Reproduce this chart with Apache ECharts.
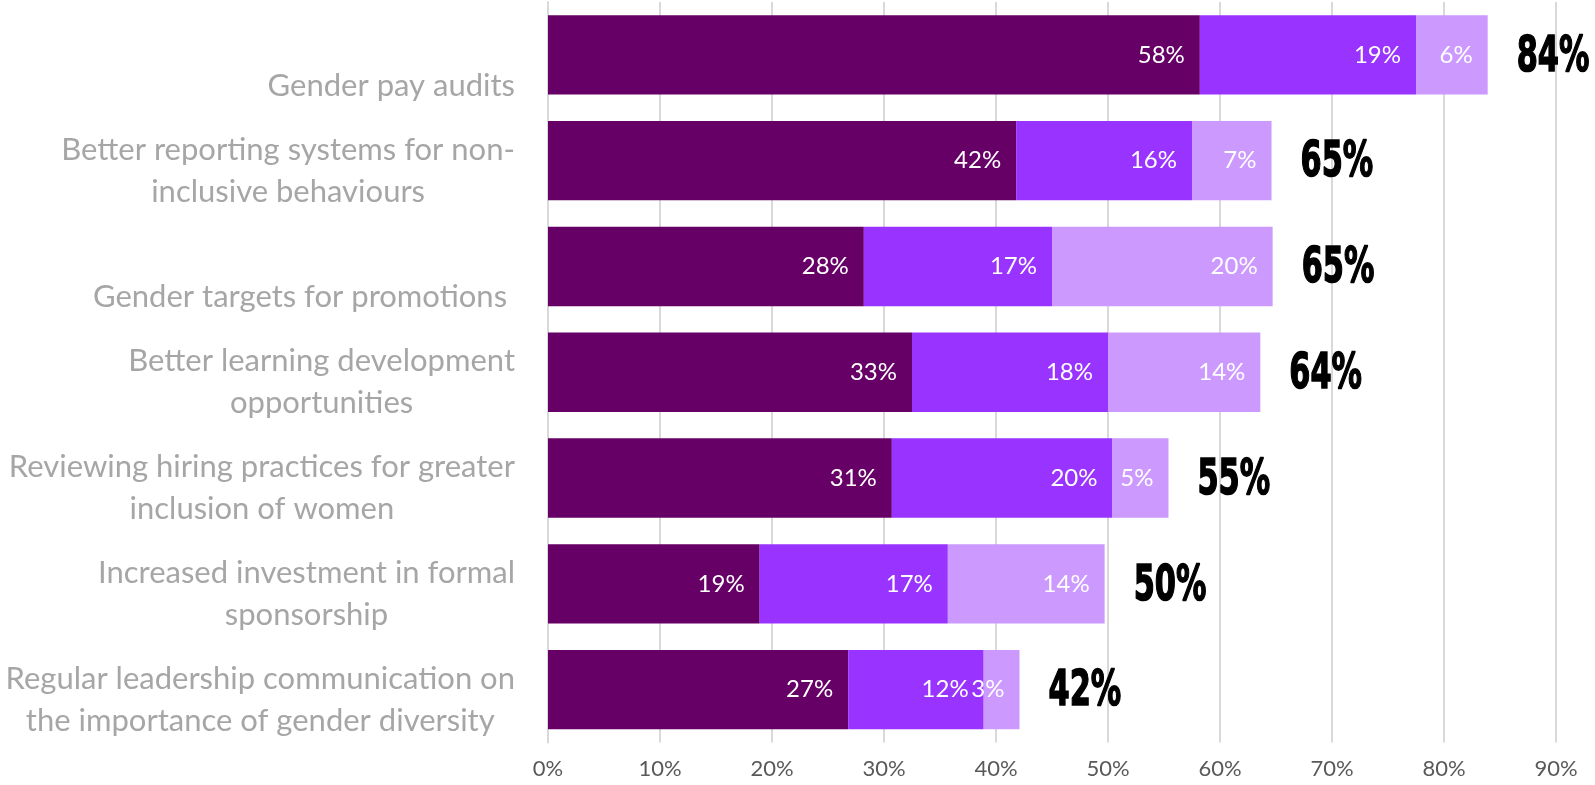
<!DOCTYPE html>
<html>
<head>
<meta charset="utf-8">
<script src="https://cdn.jsdelivr.net/npm/echarts@6/dist/echarts.min.js"></script>
<style>
html,body{margin:0;padding:0;background:#fff;}
#main{width:1595px;height:785px;}
</style>
</head>
<body>
<div id="main"></div>
<script>
const categories = [
  "Gender pay audits",
  "Better reporting systems for non-\ninclusive behaviours",
  "Gender targets for promotions ",
  "Better learning development\nopportunities",
  "Reviewing hiring practices for greater\ninclusion of women",
  "Increased investment in formal\nsponsorship",
  "Regular leadership communication on\nthe importance of gender diversity"
];
const seriesA = [58.2, 41.8, 28.2, 32.5, 30.7, 18.9, 26.8];
const seriesB = [19.3, 15.7, 16.8, 17.5, 19.7, 16.8, 12.1];
const seriesC = [6.4, 7.1, 19.7, 13.6, 5.0, 14.0, 3.2];
const totalLabels = ["84%", "65%", "65%", "64%", "55%", "50%", "42%"];
const xTicks = [0, 10, 20, 30, 40, 50, 60, 70, 80, 90];

const colors = ['#660066', '#9933FF', '#CC99FF'];
const FONT = 'Lato, Carlito, "Open Sans", sans-serif';

const chart = echarts.init(document.getElementById('main'), null, {renderer: 'canvas'});

function barSeries(name, data, color) {
  return {
    name: name,
    type: 'bar',
    stack: 'total',
    data: data,
    barCategoryGap: '25%',
    itemStyle: { color: color },
    label: {
      show: true,
      position: 'insideRight',
      distance: 15,
      color: '#ffffff',
      fontFamily: FONT,
      fontSize: 24,
      formatter: p => Math.round(p.value) + '%'
    },
    emphasis: { disabled: true }
  };
}

const sums = categories.map((c, i) => seriesA[i] + seriesB[i] + seriesC[i]);

const option = {
  animation: false,
  backgroundColor: '#ffffff',
  grid: { left: 548, right: 39, top: 2, bottom: 42.5, containLabel: false },
  xAxis: {
    type: 'value',
    min: xTicks[0],
    max: xTicks[xTicks.length - 1],
    interval: 10,
    axisLine: { show: false },
    axisTick: { show: false },
    splitLine: { show: true, lineStyle: { color: '#d9d9d9', width: 2 } },
    axisLabel: {
      color: '#595959',
      fontFamily: FONT,
      fontSize: 22,
      margin: 15,
      formatter: '{value}%'
    }
  },
  yAxis: {
    type: 'category',
    inverse: true,
    data: categories,
    axisLine: { show: true, lineStyle: { color: '#d9d9d9', width: 2 } },
    axisTick: { show: false },
    axisLabel: {
      margin: 33,
      padding: [20, 0, 0, 0],
      formatter: v => {
        const lines = v.indexOf('\n') >= 0 ? v.split('\n') : [' ', v];
        return lines.map(l => '{a|' + l + '}').join('\n');
      },
      rich: {
        a: {
          color: '#a6a6a6',
          fontFamily: FONT,
          fontSize: 31,
          lineHeight: 42,
          align: 'center'
        }
      }
    }
  },
  series: [
    barSeries('A', seriesA, colors[0]),
    barSeries('B', seriesB, colors[1]),
    barSeries('C', seriesC, colors[2]),
    {
      type: 'custom',
      silent: true,
      data: sums.map((s, i) => [s, i]),
      encode: { x: 0, y: 1 },
      z: 10,
      renderItem: (params, api) => {
        const pt = api.coord([api.value(0), api.value(1)]);
        return {
          type: 'text',
          x: pt[0] + 29,
          y: pt[1] + 3,
          scaleX: 0.62,
          style: {
            text: totalLabels[params.dataIndex],
            fontFamily: '"DejaVu Sans", sans-serif',
            fontWeight: 'bold',
            fontSize: 49,
            fill: '#000000',
            stroke: '#000000',
            lineWidth: 1.6,
            align: 'left',
            verticalAlign: 'middle'
          }
        };
      }
    }
  ]
};
chart.setOption(option);
</script>
</body>
</html>
